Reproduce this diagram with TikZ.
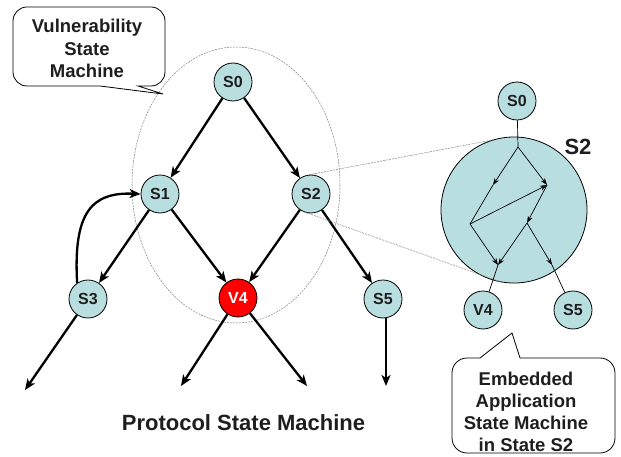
\documentclass[tikz,border=0pt]{standalone}
\usepackage{fontspec}
\setmainfont{Liberation Sans}
\usetikzlibrary{arrows.meta}
\definecolor{statefill}{RGB}{185,222,224}
\definecolor{inkgray}{RGB}{30,30,30}
\begin{document}
\begin{tikzpicture}[x=1pt,y=-1pt,
  state/.style={circle,draw=black,line width=0.8pt,fill=statefill,minimum size=38pt,inner sep=0pt,
    font=\fontsize{16}{18}\selectfont\bfseries,text=inkgray},
  vuln/.style={state,fill=red,text=white},
  trans/.style={line width=2.3pt,-{Stealth[length=11pt,width=9pt,inset=3pt]}},
  inner/.style={line width=0.7pt,-{Stealth[length=7pt,width=5pt]}},
  innerline/.style={line width=0.7pt},
  guide/.style={gray,line width=0.5pt,dash pattern=on 2pt off 1pt},
  callout/.style={draw=black,line width=0.8pt,fill=white},
  calltext/.style={align=center,font=\fontsize{18.5}{22.5}\selectfont\bfseries,text=inkgray}]
\useasboundingbox (0,0) rectangle (621,457);

% vulnerability region
\draw[guide] (236,185) ellipse [x radius=104, y radius=138];

% protocol state machine
\node[state] (S0) at (233,82) {S0};
\node[state] (S1) at (160,194) {S1};
\node[state] (S2) at (311,194) {S2};
\node[vuln]  (V4) at (238,298) {V4};
\node[state] (S3) at (88,299) {S3};
\node[state] (S5) at (383,299) {S5};

\coordinate (outS3) at (25,390);
\coordinate (outV4a) at (181,386);
\coordinate (outV4b) at (307,386);
\coordinate (outS5) at (386,386);

\draw[trans] (S0) -- (S1);
\draw[trans] (S0) -- (S2);
\draw[trans] (S1) -- (V4);
\draw[trans] (S2) -- (V4);
\draw[trans] (S1) -- (S3);
\draw[trans] (S2) -- (S5);
\draw[trans] (S3) -- (outS3);
\draw[trans] (V4) -- (outV4a);
\draw[trans] (V4) -- (outV4b);
\draw[trans] (S5.south -| outS5) -- (outS5);
\draw[trans] (S3.124) .. controls (73,212) and (92,192) .. (S1.west);

% embedded application state machine
\node[circle,draw=black,line width=0.8pt,fill=statefill,minimum size=146pt,inner sep=0pt] (big) at (514,210) {};
\draw[guide] (S2.95) -- (big.108);
\draw[guide] (S2.245) -- (big.261);

\node[state] (eS0) at (517,101) {S0};
\node[state] (eV4) at (483,310) {V4};
\node[state] (eS5) at (573,310) {S5};
\node[font=\fontsize{22}{24}\selectfont\bfseries,text=inkgray] (bigS2) at (578,147) {S2};

\coordinate (P0) at (518,147);
\coordinate (A) at (547,185);
\coordinate (X1) at (493,185);
\coordinate (L) at (470,224);
\coordinate (M) at (527,223);
\coordinate (B) at (498,265);
\coordinate (C) at (552,265);

\draw[innerline] (eS0) -- (P0);
\draw[inner] (P0) -- (X1);
\draw[innerline] (X1) -- (L);
\draw[inner] (P0) -- (A);
\draw[inner] (L) -- (A);
\draw[inner] (A) -- (M);
\draw[inner] (L) -- (B);
\draw[inner] (M) -- (B);
\draw[inner] (M) -- (C);
\draw[innerline] (C) -- (eS5);
\draw[innerline] (B) -- (eV4);

% callouts
\draw[callout] (100,86) -- (27,86) arc[start angle=90,end angle=180,radius=14]
  -- (13,21) arc[start angle=180,end angle=270,radius=14]
  -- (151,7) arc[start angle=270,end angle=360,radius=14]
  -- (165,72) arc[start angle=0,end angle=90,radius=14]
  -- (138,86) -- (163,94) -- cycle;
\node[calltext] (vsm) at (87,48.5) {Vulnerability\\State\\Machine};

\draw[callout] (520,358) -- (600,358) arc[start angle=270,end angle=360,radius=15]
  -- (615,438) arc[start angle=0,end angle=90,radius=15]
  -- (467,453) arc[start angle=90,end angle=180,radius=15]
  -- (452,373) arc[start angle=180,end angle=270,radius=15]
  -- (480,358) -- (512,333) -- cycle;
\node[calltext,font=\fontsize{18.5}{22}\selectfont\bfseries] (easm) at (526,411.5) {Embedded\\Application\\State Machine\\in State S2};

\node[font=\fontsize{22}{24}\selectfont\bfseries,text=inkgray] (psm) at (243.5,423) {Protocol State Machine};
\end{tikzpicture}
\end{document}
